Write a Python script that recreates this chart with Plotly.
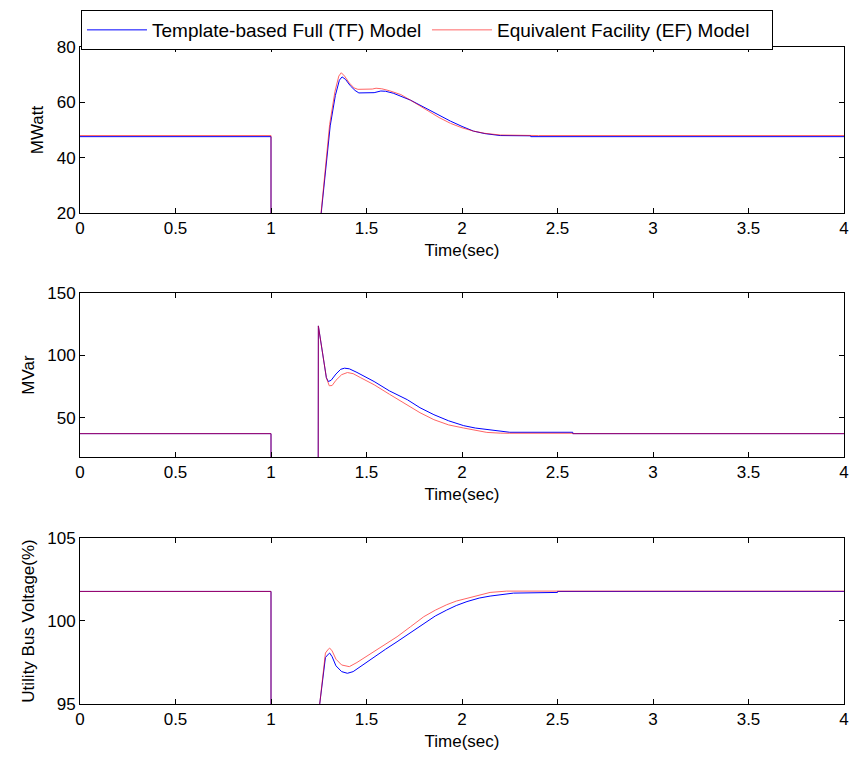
import plotly.graph_objects as go

# ---------------- data ----------------
# Active power (MWatt)
t_p_tf = [0, 1.0, 1.0, 1.25, 1.263, 1.287, 1.31, 1.337, 1.358, 1.372, 1.39, 1.415, 1.44, 1.46, 1.50, 1.54,
          1.575, 1.60, 1.64, 1.69, 1.73, 1.78, 1.83, 1.88, 1.94, 2.0, 2.06, 2.12, 2.2, 2.36, 2.36, 4.0]
p_tf = [47.6, 47.6, 0, 0, 20, 36, 51.5, 62.5, 68, 69.2, 68.3, 66, 64.3, 63.4, 63.4, 63.5,
        64.1, 64.0, 63.3, 62.0, 60.8, 59.0, 57.2, 55.2, 53.2, 51.3, 49.6, 48.7, 48.0, 47.9, 47.6, 47.6]
t_p_ef = [0, 1.0, 1.0, 1.25, 1.262, 1.285, 1.307, 1.335, 1.355, 1.368, 1.385, 1.41, 1.435, 1.455, 1.50, 1.53,
          1.55, 1.58, 1.62, 1.68, 1.73, 1.78, 1.83, 1.88, 1.94, 2.0, 2.06, 2.12, 2.2, 2.4, 4.0]
p_ef = [48.0, 48.0, 0, 0, 20, 36.5, 52, 64, 69.5, 70.7, 69.5, 67, 65.2, 64.7, 64.6, 64.8,
        65.1, 64.9, 64.2, 62.8, 60.8, 58.7, 56.5, 54.5, 52.4, 50.8, 49.6, 48.8, 48.2, 48.0, 48.0]

# Reactive power (MVar)
t_q_tf = [0, 1.0, 1.0, 1.247, 1.248, 1.273, 1.29, 1.30, 1.315, 1.34, 1.365, 1.385, 1.41, 1.45, 1.54, 1.62,
          1.714, 1.78, 1.853, 1.93, 2.009, 2.07, 2.13, 2.2, 2.25, 2.58, 2.58, 4.0]
q_tf = [37.2, 37.2, 0, 0, 123.6, 99, 82, 79, 80, 85, 88.8, 89.7, 89.2, 86.3, 79, 71.5,
        64.4, 58, 52.4, 47.5, 43.6, 41.7, 40.4, 39, 38.3, 38.3, 37.2, 37.2]
t_q_ef = [0, 1.0, 1.0, 1.247, 1.248, 1.27, 1.29, 1.305, 1.32, 1.34, 1.37, 1.40, 1.43, 1.47, 1.54, 1.62,
          1.714, 1.78, 1.853, 1.93, 2.009, 2.07, 2.13, 2.2, 2.25, 2.58, 2.58, 4.0]
q_ef = [37.2, 37.2, 0, 0, 123.6, 100, 82, 75.6, 75.8, 80, 84.5, 86.2, 85.3, 82, 76.4, 68.8,
        60.4, 54, 48.4, 44.2, 41.7, 39.8, 38.2, 37.6, 37.5, 37.5, 37.2, 37.2]

# Utility bus voltage (%)
t_v_tf = [0, 1.0, 1.0, 1.25, 1.255, 1.285, 1.30, 1.307, 1.32, 1.34, 1.37, 1.40, 1.43, 1.48, 1.54, 1.60,
          1.66, 1.73, 1.80, 1.86, 1.92, 1.97, 2.026, 2.09, 2.147, 2.27, 2.5, 2.5, 4.0]
v_tf = [101.78, 101.78, 50, 50, 95, 97.8, 98.0, 98.07, 97.85, 97.3, 96.95, 96.85, 96.95, 97.35, 97.85, 98.3,
        98.75, 99.3, 99.86, 100.3, 100.66, 100.93, 101.17, 101.38, 101.5, 101.68, 101.72, 101.78, 101.78]
t_v_ef = [0, 1.0, 1.0, 1.25, 1.255, 1.285, 1.30, 1.307, 1.32, 1.34, 1.37, 1.41, 1.45, 1.54, 1.60,
          1.66, 1.73, 1.80, 1.86, 1.92, 1.97, 2.026, 2.09, 2.147, 2.234, 4.0]
v_ef = [101.78, 101.78, 50, 50, 95, 98.07, 98.3, 98.37, 98.2, 97.7, 97.35, 97.25, 97.5, 98.15, 98.6,
        99.05, 99.65, 100.26, 100.65, 100.98, 101.2, 101.37, 101.56, 101.72, 101.8, 101.8]

series_names = ["Template-based Full (TF) Model", "Equivalent Facility (EF) Model"]
y_titles = ["MWatt", "MVar", "Utility Bus Voltage(%)"]
y_ranges = [[20, 80], [18.5, 150], [95, 105]]
y_ticks = [[20, 40, 60, 80], [50, 100, 150], [95, 100, 105]]
x_ticks = [0, 0.5, 1, 1.5, 2, 2.5, 3, 3.5, 4]
x_title = "Time(sec)"

# ---------------- figure ----------------
FONT = "Arial, Liberation Sans, sans-serif"
fig = go.Figure()
panels = [(t_p_tf, p_tf, t_p_ef, p_ef), (t_q_tf, q_tf, t_q_ef, q_ef), (t_v_tf, v_tf, t_v_ef, v_ef)]
for i, (ta, ya, tb, yb) in enumerate(panels):
    sfx = "" if i == 0 else str(i + 1)
    fig.add_trace(go.Scatter(x=ta, y=ya, mode="lines", name=series_names[0],
                             line=dict(color="#0000FF", width=1), showlegend=(i == 0),
                             xaxis="x" + sfx, yaxis="y" + sfx))
    fig.add_trace(go.Scatter(x=tb, y=yb, mode="lines", name=series_names[1],
                             line=dict(color="#FF0000", width=1), opacity=0.6, showlegend=(i == 0),
                             xaxis="x" + sfx, yaxis="y" + sfx))

domains = [[0.7473, 1.0], [0.376, 0.6256], [0.0, 0.2527]]
axis_common = dict(showline=True, linecolor="black", linewidth=1, mirror="ticks", ticks="inside",
                   ticklen=5, tickcolor="black", showgrid=False, zeroline=False,
                   tickfont=dict(family=FONT, size=17, color="black"))
layout = dict(
    width=857, height=758, margin=dict(l=80, r=8, t=47, b=54),
    paper_bgcolor="white", plot_bgcolor="white",
    font=dict(family=FONT, size=17, color="black"),
    legend=dict(orientation="h", x=0.0013, xanchor="left", y=1.0563, yanchor="top",
                bordercolor="black", borderwidth=1, bgcolor="white", itemwidth=60,
                entrywidth=270, entrywidthmode="pixels",
                font=dict(family=FONT, size=19, color="black"), traceorder="normal"),
)
for i in range(3):
    sfx = "" if i == 0 else str(i + 1)
    layout["xaxis" + sfx] = dict(axis_common, domain=[0, 1], range=[0, 4], tickvals=x_ticks,
                                 anchor="y" + sfx,
                                 title=dict(text=x_title, standoff=6, font=dict(family=FONT, size=17)))
    layout["yaxis" + sfx] = dict(axis_common, domain=domains[i], range=y_ranges[i], tickvals=y_ticks[i],
                                 anchor="x" + sfx,
                                 title=dict(text=y_titles[i], standoff=8, font=dict(family=FONT, size=17)))
fig.update_layout(**layout)
fig.write_html("out.html")
